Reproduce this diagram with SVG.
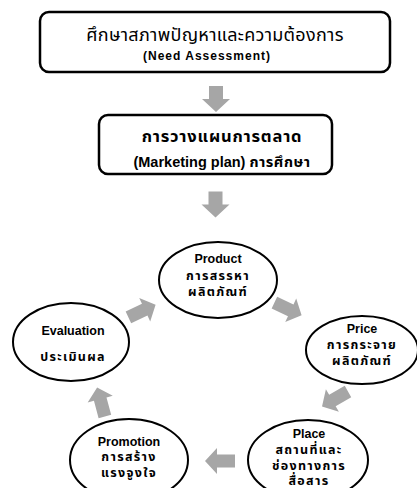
<svg xmlns="http://www.w3.org/2000/svg" width="417" height="488" viewBox="0 0 417 488">
<defs>
<style>
.box{fill:#fff;stroke:#000;stroke-width:2.5}
.ell{fill:#fff;stroke:#000;stroke-width:2}
.arr{fill:#a6a6a6}
.th{font-family:"Liberation Sans","Noto Sans Thai","DejaVu Sans",sans-serif;fill:#000;text-anchor:middle}
.en{font-family:"Liberation Sans",Arial,sans-serif;font-weight:bold;fill:#000;text-anchor:middle}
.lbl{font-size:12.5px}
.tl{font-size:12.5px;font-weight:bold;letter-spacing:1.3px}
</style>
<path id="arrR" d="M-15,-6.5 L3,-6.5 L3,-13 L15,0 L3,13 L3,6.5 L-15,6.5 Z"/>
<path id="arrD" d="M-7,-13 L7,-13 L7,0 L14,0 L0,13 L-14,0 L-7,0 Z"/>
</defs>
<rect width="417" height="488" fill="#fff"/>
<g id="connectors" class="arr">
<use href="#arrD" x="216" y="99"/>
<use href="#arrD" x="215.5" y="204.5"/>
<use href="#arrR" transform="translate(142,311) rotate(-25)"/>
<use href="#arrR" transform="translate(288,309) rotate(25)"/>
<use href="#arrR" transform="translate(335,399) rotate(150)"/>
<use href="#arrR" transform="translate(220,461) rotate(180)"/>
<use href="#arrR" transform="translate(101,402) rotate(-105)"/>
</g>
<g id="need">
<rect class="box" x="40" y="12" width="350" height="60" rx="9"/>
<text class="th" x="215" y="41" font-size="18" letter-spacing="0.3">ศึกษาสภาพปัญหาและความต้องการ</text>
<text class="en" x="207" y="60" font-size="12" letter-spacing="1">(Need Assessment)</text>
</g>
<g id="plan">
<rect class="box" x="99" y="115" width="233" height="59" rx="9"/>
<text class="th" x="222" y="142" font-size="16.5" font-weight="bold" letter-spacing="0.8">การวางแผนการตลาด</text>
<text class="en" x="222" y="167" font-size="14.5">(Marketing plan) <tspan font-family="Liberation Sans,Noto Sans Thai,sans-serif" letter-spacing="0.5">การศึกษา</tspan></text>
</g>
<g id="product">
<ellipse class="ell" cx="218" cy="280" rx="59" ry="38"/>
<text class="en lbl" x="218" y="263">Product</text>
<text class="th tl" x="218" y="280">การสรรหา</text>
<text class="th tl" x="218" y="296">ผลิตภัณฑ์</text>
</g>
<g id="price">
<ellipse class="ell" cx="362" cy="350" rx="56" ry="34"/>
<text class="en lbl" x="362" y="333">Price</text>
<text class="th tl" x="362" y="349">การกระจาย</text>
<text class="th tl" x="362" y="365">ผลิตภัณฑ์</text>
</g>
<g id="place">
<ellipse class="ell" cx="308" cy="460" rx="60" ry="40"/>
<text class="en lbl" x="309" y="438">Place</text>
<text class="th tl" x="309" y="454">สถานที่และ</text>
<text class="th tl" x="309" y="470">ช่องทางการ</text>
<text class="th tl" x="309" y="485">สื่อสาร</text>
</g>
<g id="promotion">
<ellipse class="ell" cx="129" cy="460" rx="59" ry="41"/>
<text class="en lbl" x="129" y="446">Promotion</text>
<text class="th tl" x="129" y="461">การสร้าง</text>
<text class="th tl" x="129" y="477">แรงจูงใจ</text>
</g>
<g id="evaluation">
<ellipse class="ell" cx="71" cy="342" rx="58" ry="39"/>
<text class="en lbl" x="73" y="335">Evaluation</text>
<text class="th tl" x="73" y="361">ประเมินผล</text>
</g>
</svg>
